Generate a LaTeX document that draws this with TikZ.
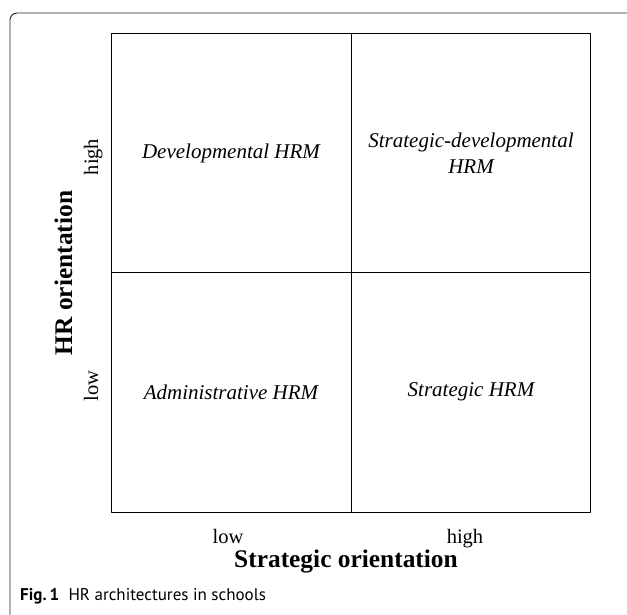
\documentclass[tikz,border=0pt]{standalone}
\usepackage{fontspec}
\setmainfont{Liberation Serif}
\newfontfamily\captionfont{PT Sans}
\usepackage{xcolor}
\definecolor{framegray}{RGB}{35,35,35}
\tikzset{cellnode/.style={font=\fontsize{21}{26}\selectfont\itshape, align=center, inner sep=0pt},
levelnode/.style={font=\fontsize{20.5}{24}\selectfont, inner sep=0pt, anchor=base},
axisnode/.style={font=\fontsize{25.4}{30}\selectfont\bfseries, inner sep=0pt, anchor=base}}

\begin{document}
\begin{tikzpicture}[x=1pt, y=-1pt, line join=bevel]
                \useasboundingbox (0,0) rectangle (627,615);

                % Frame
                \draw[framegray, line width=0.9pt, rounded corners=7pt] (10,615) -- (10,13) -- (627,13);

                % Quadrants
                \coordinate (nw) at (111,33);
                \coordinate (se) at (590,512);
                \coordinate (mid) at (351,272);
                \draw[line width=0.9pt] (nw) rectangle (se);
                \draw[line width=0.9pt] (mid |- nw) -- (mid |- se);
                \draw[line width=0.9pt] (nw |- mid) -- (se |- mid);

                % Cells
                \node[cellnode] (dev) at (231,153) {Developmental HRM};
                \node[cellnode] (stratdev) at (471,153) {Strategic-developmental\\HRM};
                \node[cellnode] (admin) at (231,392) {Administrative HRM};
                \node[cellnode] (strat) at (471,392) {Strategic HRM};

                % Axis graduations
                \foreach \y/\ytext/\yname in {157/high/yhigh, 386/low/ylow} {
\node[levelnode, rotate=90] (\yname) at (98,\y) {\ytext};
}
                \foreach \x/\xtext/\xname in {228/low/xlow, 465/high/xhigh} {
\node[levelnode] (\xname) at (\x,543) {\xtext};
}
                \node[axisnode, rotate=90] (hrorient) at (72,273) {HR orientation};
                \node[axisnode] (stratorient) at (346,567) {Strategic orientation};

                % Caption
                \node[anchor=base west, inner sep=0pt, font=\captionfont\fontsize{17}{20}\selectfont] (caption) at (20,600) {\textbf{Fig.\,1}\hspace{0.55em}HR architectures in schools};
\end{tikzpicture}
\end{document}
